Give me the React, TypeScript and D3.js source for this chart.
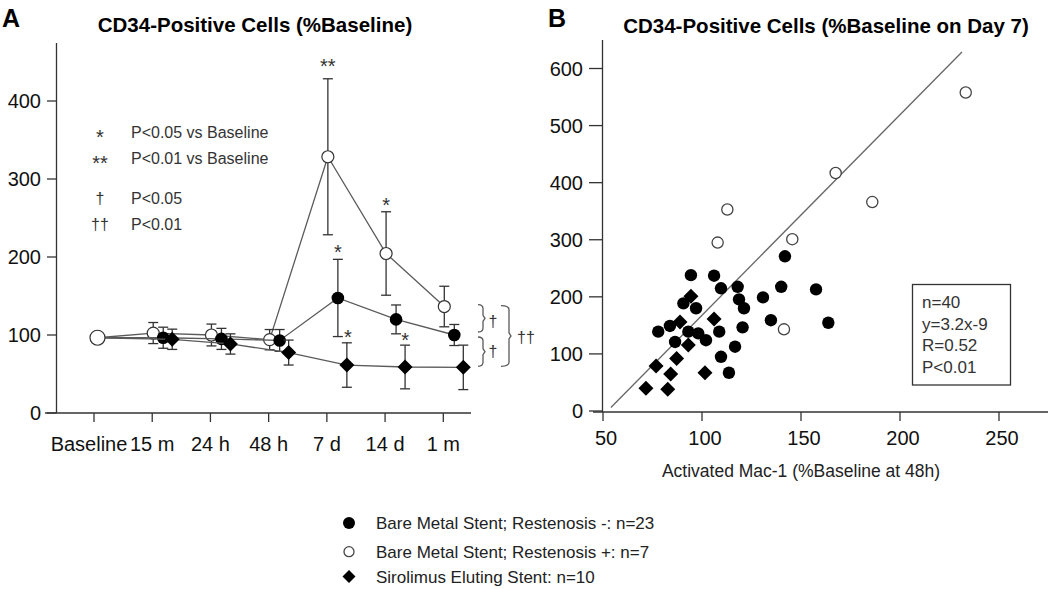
import React from 'react';
import * as d3 from 'd3';

// ---------- Panel A data ----------
const timeLabels = ['Baseline', '15 m', '24 h', '48 h', '7 d', '14 d', '1 m'];
const restPlusMean = [96.5, 102.5, 100, 94, 328.5, 204.5, 136.5];
const restPlusErr = [0, 13.5, 14, 13, 100, 53.5, 26];
const restMinusMean = [96.5, 96.5, 95, 93, 147.5, 120, 100];
const restMinusErr = [0, 13.5, 13.5, 14, 49.5, 18.5, 13.5];
const sesMean = [96.5, 94.5, 88.5, 77.5, 61.5, 59, 58.5];
const sesErr = [0, 13, 13, 16, 28.5, 28, 28.5];
const yTicksA = [0, 100, 200, 300, 400];
const sigLegend = [
  { sym: '*', text: 'P<0.05 vs Baseline' },
  { sym: '**', text: 'P<0.01 vs Baseline' },
  { sym: '†', text: 'P<0.05' },
  { sym: '††', text: 'P<0.01' },
];

// ---------- Panel B data ----------
const bmsMinusX = [94.4, 106.1, 109.6, 118, 118.7, 121.2, 130.8, 140, 90.6, 97, 120.5, 134.8, 108.7, 77.9, 83.8, 86.4, 93.1, 98.1, 102, 116.7, 109.6, 113.6, 141.9, 157.6, 163.8];
const bmsMinusY = [238, 237, 215, 217.6, 195.5, 180, 199, 217.6, 188.5, 180, 146.5, 159, 139, 139, 149, 121, 139, 136, 124, 112.6, 95, 67, 271, 213, 154.6];
const bmsPlusX = [112.8, 107.9, 145.6, 167.5, 186, 233.2, 141.4];
const bmsPlusY = [353, 295, 301, 417, 366, 558, 143];
const sesX = [94.4, 106.1, 88.9, 93.1, 87.2, 76.8, 84.2, 101.5, 71.7, 82.7];
const sesY = [201, 161, 156, 115.5, 92, 79, 65, 67, 40, 38];
const fitLineX = [54, 231.3];
const fitLineY = [6, 629];
const xTicksB = [50, 100, 150, 200, 250];
const yTicksB = [0, 100, 200, 300, 400, 500, 600];
const statLines = ['n=40', 'y=3.2x-9', 'R=0.52', 'P<0.01'];
const legendItems = [
  { shape: 'filled', label: 'Bare Metal Stent; Restenosis -: n=23' },
  { shape: 'open', label: 'Bare Metal Stent; Restenosis +: n=7' },
  { shape: 'diamond', label: 'Sirolimus Eluting Stent: n=10' },
];

const FONT = '"Liberation Sans", Arial, Helvetica, sans-serif';
const GRAY = '#5a5a5a';

function Diamond({ cx, cy, r }: { cx: number; cy: number; r: number }) {
  return <path d={`M${cx},${cy - r}L${cx + r},${cy}L${cx},${cy + r}L${cx - r},${cy}Z`} fill="#000" />;
}

function Bracket({ x, y0, y1, w }: { x: number; y0: number; y1: number; w: number }) {
  const ym = (y0 + y1) / 2;
  const d = `M${x},${y0} Q${x + w},${y0} ${x + w},${y0 + 4} L${x + w},${ym - 3} L${x + w + 2},${ym} L${x + w},${ym + 3} L${x + w},${y1 - 4} Q${x + w},${y1} ${x},${y1}`;
  return <path d={d} fill="none" stroke={GRAY} strokeWidth={1.3} />;
}

export default function App() {
  // ---- Panel A scales ----
  const xA = d3.scaleLinear().domain([0, 6]).range([94, 443.3]);
  const yA = d3.scaleLinear().domain([0, 400]).range([413, 101]);
  const seriesA = [
    { key: 'plus', mean: restPlusMean, err: restPlusErr, off: 1, shape: 'open' },
    { key: 'minus', mean: restMinusMean, err: restMinusErr, off: 11, shape: 'filled' },
    { key: 'ses', mean: sesMean, err: sesErr, off: 20, shape: 'diamond' },
  ];
  const baseX = xA(0) + 3.5;
  const px = (i: number, off: number) => (i === 0 ? baseX : xA(i) + off);

  // ---- Panel B scales ----
  const xB = d3.scaleLinear().domain([50, 250]).range([603, 999]);
  const yB = d3.scaleLinear().domain([0, 600]).range([411, 68.5]);

  return (
    <svg width={1050} height={589} style={{ display: 'block', fontFamily: FONT }}>
      <style>{`body{margin:0}`}</style>
      <rect width={1050} height={589} fill="#fff" />

      {/* ===== Panel A ===== */}
      <text x={2} y={27} fontSize={25} fontWeight="bold">A</text>
      <text x={255} y={32} fontSize={20.5} fontWeight="bold" textAnchor="middle">
        CD34-Positive Cells (%Baseline)
      </text>
      {/* axes */}
      <line x1={56.5} y1={43} x2={56.5} y2={413} stroke="#333" strokeWidth={1.3} />
      <line x1={45} y1={413} x2={471} y2={413} stroke="#333" strokeWidth={1.3} />
      {yTicksA.map((t) => (
        <g key={t}>
          <line x1={47} x2={56.5} y1={yA(t)} y2={yA(t)} stroke="#333" strokeWidth={1.3} />
          <text x={41} y={yA(t)} dy="0.36em" fontSize={20} textAnchor="end" fill="#111">{t}</text>
        </g>
      ))}
      {timeLabels.map((l, i) => (
        <g key={l}>
          <line x1={xA(i)} x2={xA(i)} y1={413} y2={422} stroke="#333" strokeWidth={1.3} />
          <text x={xA(i) - (i === 0 ? 5 : 0)} y={451} fontSize={20} textAnchor="middle" fill="#111">{l}</text>
        </g>
      ))}
      {/* significance legend */}
      {sigLegend.map((s, i) => {
        const y = [132.5, 158, 198, 224][i];
        const isStar = s.sym.includes('*');
        return (
          <g key={i} fill="#333">
            <text x={100} y={isStar ? y + 11.6 : y} dy={isStar ? 0 : '0.36em'} fontSize={isStar ? 20 : 16} textAnchor="middle">{s.sym}</text>
            <text x={131} y={y} dy="0.36em" fontSize={16}>{s.text}</text>
          </g>
        );
      })}
      {/* series */}
      {seriesA.map((s) => {
        const pts = s.mean.map((m, i) => [px(i, s.off), yA(m)] as [number, number]);
        const path = d3.line()(pts) as string;
        return (
          <g key={s.key}>
            <path d={path} fill="none" stroke={GRAY} strokeWidth={1.3} />
            {s.mean.map((m, i) =>
              i === 0 ? null : (
                <g key={i} stroke="#333" strokeWidth={1.3}>
                  <line x1={px(i, s.off)} x2={px(i, s.off)} y1={yA(m + s.err[i])} y2={yA(m - s.err[i])} />
                  <line x1={px(i, s.off) - 5} x2={px(i, s.off) + 5} y1={yA(m + s.err[i])} y2={yA(m + s.err[i])} />
                  <line x1={px(i, s.off) - 5} x2={px(i, s.off) + 5} y1={yA(m - s.err[i])} y2={yA(m - s.err[i])} />
                </g>
              )
            )}
            {s.mean.map((m, i) => {
              if (i === 0) return null;
              const cx = px(i, s.off);
              const cy = yA(m);
              if (s.shape === 'open') return <circle key={'m' + i} cx={cx} cy={cy} r={6} fill="#fff" stroke="#333" strokeWidth={1.2} />;
              if (s.shape === 'filled') return <circle key={'m' + i} cx={cx} cy={cy} r={6.3} fill="#000" />;
              return <Diamond key={'m' + i} cx={cx} cy={cy} r={7.5} />;
            })}
          </g>
        );
      })}
      <circle cx={baseX} cy={yA(restPlusMean[0])} r={7.5} fill="#fff" stroke="#333" strokeWidth={1.2} />
      {/* significance stars */}
      <g fill="#333" fontSize={20} textAnchor="middle">
        <text x={px(4, 1)} y={yA(restPlusMean[4] + restPlusErr[4]) - 5.5}>**</text>
        <text x={px(5, 1)} y={yA(restPlusMean[5] + restPlusErr[5])}>*</text>
        <text x={px(4, 11)} y={yA(restMinusMean[4] + restMinusErr[4])}>*</text>
        <text x={px(4, 20) + 1} y={yA(sesMean[4] + sesErr[4]) + 1}>*</text>
        <text x={px(5, 20)} y={yA(sesMean[5] + sesErr[5]) + 1.5}>*</text>
      </g>
      {/* brackets */}
      <Bracket x={478} y0={yA(restPlusMean[6]) - 2} y1={yA(restMinusMean[6]) - 3} w={5} />
      <Bracket x={478} y0={yA(restMinusMean[6]) + 2} y1={yA(sesMean[6]) - 1} w={5} />
      <Bracket x={501} y0={yA(restPlusMean[6]) - 1} y1={yA(sesMean[6]) - 1} w={8} />
      <g fill="#333" fontSize={16} textAnchor="middle">
        <text x={493} y={(yA(restPlusMean[6]) + yA(restMinusMean[6])) / 2} dy="0.36em">†</text>
        <text x={493} y={(yA(restMinusMean[6]) + yA(sesMean[6])) / 2} dy="0.36em">†</text>
        <text x={526} y={(yA(restPlusMean[6]) + yA(sesMean[6])) / 2} dy="0.36em">††</text>
      </g>

      {/* ===== Panel B ===== */}
      <text x={548} y={27} fontSize={25} fontWeight="bold">B</text>
      <text x={826} y={33} fontSize={20.5} fontWeight="bold" textAnchor="middle">
        CD34-Positive Cells (%Baseline on Day 7)
      </text>
      <line x1={602.5} y1={40} x2={602.5} y2={412} stroke="#333" strokeWidth={1.3} />
      <line x1={593} y1={412} x2={1048} y2={412} stroke="#333" strokeWidth={1.3} />
      {yTicksB.map((t) => (
        <g key={t}>
          <line x1={589} x2={602.5} y1={yB(t)} y2={yB(t)} stroke="#333" strokeWidth={1.3} />
          <text x={583} y={yB(t)} dy="0.36em" fontSize={20} textAnchor="end" fill="#111">{t}</text>
        </g>
      ))}
      {xTicksB.map((t) => (
        <g key={t}>
          <line x1={xB(t)} x2={xB(t)} y1={412} y2={421} stroke="#333" strokeWidth={1.3} />
          <text x={xB(t) + 3} y={445} fontSize={20} textAnchor="middle" fill="#111">{t}</text>
        </g>
      ))}
      <text x={801} y={477} fontSize={17.5} textAnchor="middle" fill="#222">Activated Mac-1 (%Baseline at 48h)</text>
      {/* fit line */}
      <line x1={xB(fitLineX[0])} y1={yB(fitLineY[0])} x2={xB(fitLineX[1])} y2={yB(fitLineY[1])} stroke="#666" strokeWidth={1.3} />
      {/* points */}
      {bmsMinusX.map((x, i) => (
        <circle key={'f' + i} cx={xB(x)} cy={yB(bmsMinusY[i])} r={6.2} fill="#000" />
      ))}
      {sesX.map((x, i) => (
        <Diamond key={'d' + i} cx={xB(x)} cy={yB(sesY[i])} r={7.5} />
      ))}
      {bmsPlusX.map((x, i) => (
        <circle key={'o' + i} cx={xB(x)} cy={yB(bmsPlusY[i])} r={5.6} fill="#fff" stroke="#444" strokeWidth={1.3} />
      ))}
      {/* stats box */}
      <rect x={912.5} y={284.5} width={98} height={100.5} fill="#fff" stroke="#333" strokeWidth={1.3} />
      {statLines.map((s, i) => (
        <text key={s} x={922} y={301.7 + i * 21.7} dy="0.36em" fontSize={17} fill="#333">{s}</text>
      ))}

      {/* ===== bottom legend ===== */}
      {legendItems.map((it, i) => {
        const y = [523, 551.7, 576.5][i];
        return (
          <g key={it.label}>
            {it.shape === 'filled' && <circle cx={349} cy={y} r={6} fill="#000" />}
            {it.shape === 'open' && <circle cx={349} cy={y} r={5} fill="#fff" stroke="#444" strokeWidth={1.3} />}
            {it.shape === 'diamond' && <Diamond cx={349} cy={y} r={6.5} />}
            <text x={376} y={y} dy="0.36em" fontSize={17} fill="#222">{it.label}</text>
          </g>
        );
      })}
    </svg>
  );
}
